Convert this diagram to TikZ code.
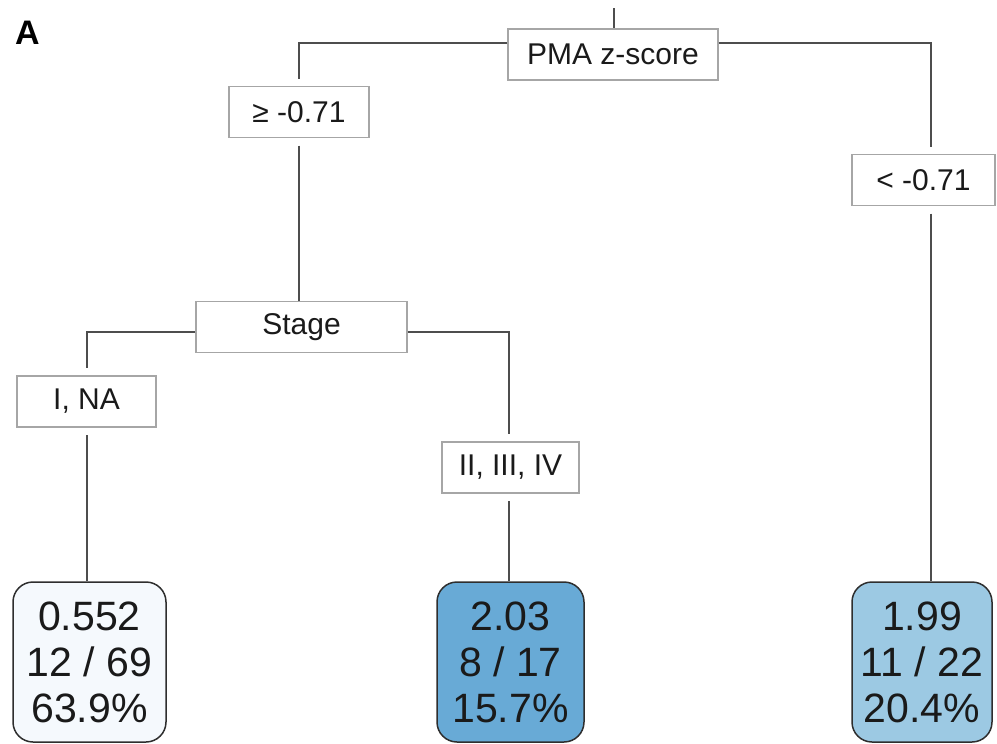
\documentclass[tikz,border=0pt]{standalone}
\usepackage{fontspec}
\setmainfont{Liberation Sans}
\definecolor{boxgray}{HTML}{A6A6A6}
\definecolor{linegray}{HTML}{4D4D4D}
\definecolor{leafborder}{HTML}{2E2E2E}
\definecolor{txt}{HTML}{1A1A1A}
\definecolor{leafA}{HTML}{F5F9FD}
\definecolor{leafB}{HTML}{68AAD6}
\definecolor{leafC}{HTML}{9CC9E3}
\begin{document}
\begin{tikzpicture}[x=1pt,y=-1pt,
  splitbox/.style={draw=boxgray, line width=1.3pt, fill=white, inner sep=0pt,
    minimum height=51pt, text=txt, font=\fontsize{30}{34}\selectfont},
  gapbox/.style={splitbox, outer xsep=0pt, outer ysep=8pt},
  leafbox/.style={draw=leafborder, line width=1.5pt, rounded corners=20pt, inner sep=0pt,
    minimum height=160pt, align=center, text=txt, font=\fontsize{41}{46}\selectfont},
  branch/.style={draw=linegray, line width=2pt}]
\useasboundingbox (0,0) rectangle (997,744);
\node[anchor=base west, inner sep=0pt, font=\bfseries\fontsize{34}{38}\selectfont] (lab) at (15,44) {A};
% split nodes
\node[splitbox, minimum width=210pt] (pma) at (613,54.5) {PMA z-score};
\node[gapbox, minimum width=140pt] (geq) at (299,112) {≥ -0.71};
\node[gapbox, minimum width=143pt] (lt) at (923.5,180) {< -0.71};
\node[splitbox, minimum width=211pt] (stage) at (301.5,327) {Stage};
\node[gapbox, minimum width=139pt] (ina) at (86.5,401.5) {I, NA};
\node[gapbox, minimum width=137pt] (two) at (510.5,467.5) {II, III, IV};
% leaves
\node[leafbox, fill=leafA, minimum width=153pt] (leaf1) at (89.5,662) {0.552\\12 / 69\\63.9\%};
\node[leafbox, fill=leafB, minimum width=147pt] (leaf2) at (510.5,662) {2.03\\8 / 17\\15.7\%};
\node[leafbox, fill=leafC, minimum width=140pt] (leaf3) at (922,662) {1.99\\11 / 22\\20.4\%};
% connectors
\coordinate (top) at (614,8);
\coordinate (h1) at (0,43);
\coordinate (h2) at (0,332);
\draw[branch] (top) -- (top |- pma.north);
\draw[branch] (pma.west |- h1) -- (geq.north |- h1) -- (geq.north);
\draw[branch] (pma.east |- h1) -- (931,43) -- (931,0 |- lt.north);
\draw[branch] (geq.south) -- (geq.south |- stage.north);
\draw[branch] (931,0 |- lt.south) -- (931,0 |- leaf3.north);
\draw[branch] (stage.west |- h2) -- (ina.north |- h2) -- (ina.north);
\draw[branch] (stage.east |- h2) -- (509,332) -- (509,0 |- two.north);
\draw[branch] (ina.south) -- (ina.south |- leaf1.north);
\draw[branch] (509,0 |- two.south) -- (509,0 |- leaf2.north);
\end{tikzpicture}
\end{document}
